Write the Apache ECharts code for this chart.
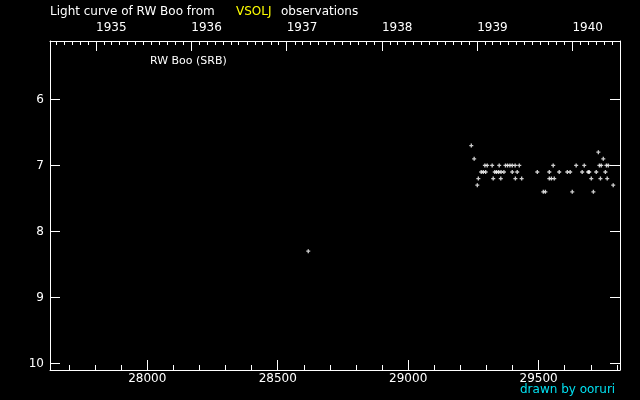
<!DOCTYPE html>
<html>
<head>
<meta charset="utf-8">
<script src="https://cdn.jsdelivr.net/npm/echarts@6/dist/echarts.min.js"></script>
<style>
html,body{margin:0;padding:0;background:#000;}
#chart{width:640px;height:400px;}
</style>
</head>
<body>
<div id="chart"></div>
<script>
// Julian Day - 2400000 of each observation
var jdValues = [
  28617,
  29242, 29253, 29265, 29269, 29280, 29288, 29294, 29297, 29303,
  29322, 29326, 29332, 29339, 29347, 29349, 29355, 29356, 29367,
  29373, 29381, 29390, 29399, 29399, 29410, 29411, 29418, 29426, 29435,
  29495, 29518, 29526, 29541, 29541, 29549, 29556, 29560, 29579,
  29610, 29621, 29629, 29644, 29667, 29675, 29690, 29694, 29702,
  29710, 29721, 29729, 29733, 29737, 29740, 29748, 29756, 29760,
  29763, 29767, 29786
];
// visual magnitudes
var magValues = [
  8.3,
  6.7, 6.9, 7.3, 7.2, 7.1, 7.1, 7.0, 7.1, 7.0,
  7.0, 7.2, 7.1, 7.1, 7.1, 7.0, 7.2, 7.1, 7.1,
  7.0, 7.0, 7.0, 7.0, 7.1, 7.0, 7.2, 7.1, 7.0, 7.2,
  7.1, 7.4, 7.4, 7.1, 7.2, 7.2, 7.0, 7.2, 7.1,
  7.1, 7.1, 7.4, 7.0, 7.1, 7.0, 7.1, 7.1, 7.2,
  7.4, 7.1, 6.8, 7.0, 7.2, 7.0, 6.9, 7.1, 7.0,
  7.2, 7.0, 7.3
];
var jdMajorTicks = [28000, 28500, 29000, 29500];
var jdMinorTicks = [27700, 27800, 27900, 28100, 28200, 28300, 28400, 28600, 28700, 28800, 28900,
                    29100, 29200, 29300, 29400, 29600, 29700, 29800];
var magTicks = [6, 7, 8, 9, 10];
var yearLabels = ['1935', '1936', '1937', '1938', '1939', '1940'];

var JD_MIN = 27627, JD_MAX = 29812;
var MAG_MIN = 5.115, MAG_MAX = 10.1;

function jdOfDate(y, m) {
  return Date.UTC(y, m, 1) / 86400000 + 2440587.5 - 2400000;
}
var yearTickJD = yearLabels.map(function (y) { return jdOfDate(+y, 0); });
var monthTickJD = [];
for (var y = 1934; y <= 1940; y++) {
  for (var m = 1; m < 12; m++) {
    var j = jdOfDate(y, m);
    if (j > JD_MIN && j < JD_MAX) monthTickJD.push(j);
  }
}

var points = jdValues.map(function (j, i) { return [j, magValues[i]]; });

var FONT = 'DejaVu Sans';
var plusPath = 'path://M1,0H2V1H3V2H2V3H1V2H0V1H1Z';

var chart = echarts.init(document.getElementById('chart'), null, {renderer: 'canvas'});
var lineStyle = {color: '#fff', width: 1};
chart.setOption({
  backgroundColor: '#000',
  animation: false,
  grid: {left: 50, right: 20, top: 41, bottom: 30, containLabel: false},
  xAxis: [
    {
      type: 'value', position: 'bottom', min: JD_MIN, max: JD_MAX,
      axisLine: {show: true, onZero: false, lineStyle: lineStyle},
      axisTick: {show: true, inside: true, length: 10, customValues: jdMajorTicks, lineStyle: lineStyle},
      axisLabel: {show: true, customValues: jdMajorTicks, color: '#fff', fontFamily: FONT, fontSize: 12, margin: 3,
        formatter: function (v) { return String(v); }},
      splitLine: {show: false}
    },
    {
      type: 'value', position: 'bottom', min: JD_MIN, max: JD_MAX,
      axisLine: {show: false, onZero: false},
      axisTick: {show: true, inside: true, length: 5, customValues: jdMinorTicks, lineStyle: lineStyle},
      axisLabel: {show: false},
      splitLine: {show: false}
    },
    {
      type: 'value', position: 'top', min: JD_MIN, max: JD_MAX,
      axisLine: {show: true, onZero: false, lineStyle: lineStyle},
      axisTick: {show: true, inside: true, length: 10, customValues: yearTickJD, lineStyle: lineStyle},
      axisLabel: {
        show: true, customValues: yearTickJD, color: '#fff', fontFamily: FONT, fontSize: 12,
        margin: 7, align: 'left',
        formatter: function (v) {
          var idx = yearTickJD.indexOf(v);
          return idx >= 0 ? yearLabels[idx] : '';
        }
      },
      splitLine: {show: false}
    },
    {
      type: 'value', position: 'top', min: JD_MIN, max: JD_MAX,
      axisLine: {show: false, onZero: false},
      axisTick: {show: true, inside: true, length: 4, customValues: monthTickJD, lineStyle: lineStyle},
      axisLabel: {show: false},
      splitLine: {show: false}
    }
  ],
  yAxis: [
    {
      type: 'value', position: 'left', inverse: true, min: MAG_MIN, max: MAG_MAX,
      axisLine: {show: true, onZero: false, lineStyle: lineStyle},
      axisTick: {show: true, inside: true, length: 10, customValues: magTicks, lineStyle: lineStyle},
      axisLabel: {show: true, customValues: magTicks, color: '#fff', fontFamily: FONT, fontSize: 12, margin: 6},
      splitLine: {show: false}
    },
    {
      type: 'value', position: 'right', inverse: true, min: MAG_MIN, max: MAG_MAX,
      axisLine: {show: true, onZero: false, lineStyle: lineStyle},
      axisTick: {show: true, inside: true, length: 10, customValues: magTicks, lineStyle: lineStyle},
      axisLabel: {show: false},
      splitLine: {show: false}
    }
  ],
  graphic: [
    {type: 'text', left: 50, top: 6, style: {text: 'Light curve of RW Boo from', fill: '#fff', font: '12px "DejaVu Sans"'}},
    {type: 'text', left: 236, top: 6, style: {text: 'VSOLJ', fill: '#ffff00', font: '12px "DejaVu Sans"'}},
    {type: 'text', left: 281, top: 6, style: {text: 'observations', fill: '#fff', font: '12px "DejaVu Sans"'}},
    {type: 'text', left: 150, top: 56, style: {text: 'RW Boo (SRB)', fill: '#fff', font: '11px "DejaVu Sans"'}},
    {type: 'text', left: 520, top: 384, style: {text: 'drawn by ooruri', fill: '#00e0f0', font: '12px "DejaVu Sans"'}}
  ],
  series: [{
    type: 'scatter',
    xAxisIndex: 0, yAxisIndex: 0,
    data: points,
    symbol: plusPath,
    symbolSize: 4,
    itemStyle: {color: '#fff'},
    silent: true
  }]
});
</script>
</body>
</html>
